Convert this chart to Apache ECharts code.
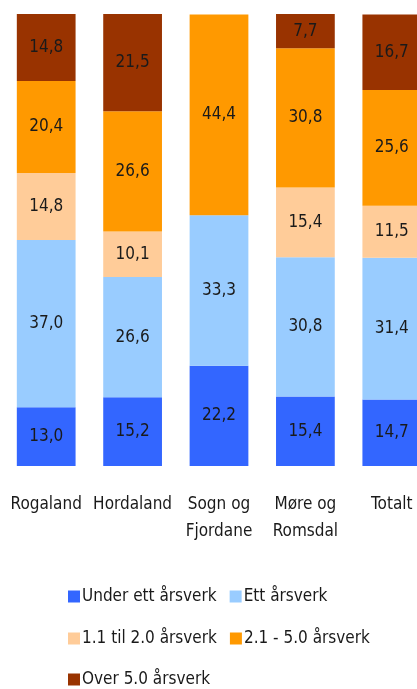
<!DOCTYPE html>
<html>
<head>
<meta charset="utf-8">
<script src="https://cdn.jsdelivr.net/npm/echarts@6/dist/echarts.min.js"></script>
<style>html,body{margin:0;padding:0;background:#fff;overflow:hidden;width:417px;height:689px;}#c{width:435px;height:689px;}</style>
</head>
<body>
<div id="c"></div>
<script>
const categories = ['Rogaland', 'Hordaland', 'Sogn og\nFjordane', 'Møre og\nRomsdal', 'Totalt'];
const seriesNames = ['Under ett årsverk', 'Ett årsverk', '1.1 til 2.0 årsverk', '2.1 - 5.0 årsverk', 'Over 5.0 årsverk'];
const underEtt = [13.0, 15.2, 22.2, 15.4, 14.7];
const ettArsverk = [37.0, 26.6, 33.3, 30.8, 31.4];
const til2 = [14.8, 10.1, null, 15.4, 11.5];
const til5 = [20.4, 26.6, 44.4, 30.8, 25.6];
const over5 = [14.8, 21.5, null, 7.7, 16.7];
const colors = ['#3366FF', '#99CCFF', '#FFCC99', '#FF9900', '#993300'];

const FONT = '"Liberation Sans Narrow", "DejaVu Sans Condensed", "DejaVu Sans", sans-serif';
const values = [underEtt, ettArsverk, til2, til5, over5];

const legendText = { fontFamily: FONT, fontSize: 17, color: '#1a1a1a', padding: [0, 0, 0, -3] };
const chart = echarts.init(document.getElementById('c'));
chart.setOption({
  animation: false,
  grid: { left: 3, right: 0, top: 14, bottom: 223, containLabel: false },
  xAxis: {
    type: 'category', data: categories,
    axisLine: { show: false }, axisTick: { show: false },
    axisLabel: { color: '#1a1a1a', fontFamily: FONT, fontSize: 17, lineHeight: 27, margin: 25, interval: 0, verticalAlign: 'top' }
  },
  yAxis: { type: 'value', min: 0, max: 100, show: false, splitLine: { show: false } },
  legend: [
    { left: 63, top: 583, width: 360, itemWidth: 12, itemHeight: 12, itemGap: 13, icon: 'rect',
      textStyle: legendText, data: [seriesNames[0], seriesNames[1]] },
    { left: 63, top: 625, width: 360, itemWidth: 12, itemHeight: 12, itemGap: 13, icon: 'rect',
      textStyle: legendText, data: [seriesNames[2], seriesNames[3]] },
    { left: 63, top: 666, width: 360, itemWidth: 12, itemHeight: 12, itemGap: 13, icon: 'rect',
      textStyle: legendText, data: [seriesNames[4]] }
  ],
  series: seriesNames.map((name, i) => ({
    name, type: 'bar', stack: 'total', barWidth: '68%',
    data: values[i],
    itemStyle: { color: colors[i] },
    label: {
      show: true, position: 'inside', color: '#1a1a1a', fontFamily: FONT, fontSize: 17,
      formatter: p => p.value == null ? '' : p.value.toFixed(1).replace('.', ',')
    }
  }))
});
</script>
</body>
</html>
